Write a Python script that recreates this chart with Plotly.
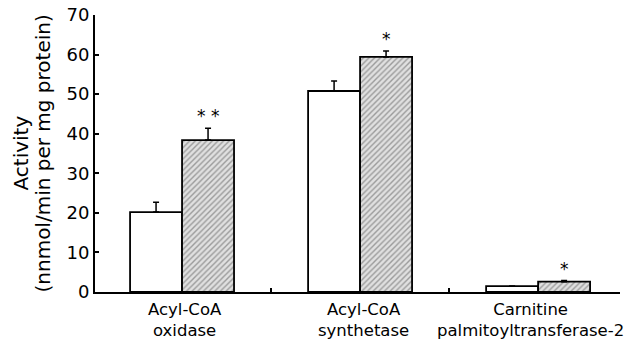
import plotly.graph_objects as go

categories = ["Acyl-CoA<br>oxidase", "Acyl-CoA<br>synthetase", "Carnitine<br>palmitoyltransferase-2"]
control_vals = [20.2, 50.8, 1.5]
control_err = [2.5, 2.5, 0.0]
treated_vals = [38.4, 59.4, 2.6]
treated_err = [3.0, 1.5, 0.3]
signif = ["* *", "*", "*"]
y_ticks = [0, 10, 20, 30, 40, 50, 60, 70]
y_title = ["Activity", "(nnmol/min per mg protein)"]

xpos = list(range(len(categories)))
FONT = "DejaVu Sans, Verdana, sans-serif"

fig = go.Figure()
fig.add_trace(go.Bar(
    x=xpos, y=control_vals,
    marker=dict(color="white", line=dict(color="black", width=1.8)),
    error_y=dict(type="data", symmetric=False, array=control_err,
                 arrayminus=[0] * 3, color="black", thickness=1.5, width=3),
    name="Control", showlegend=False,
))
fig.add_trace(go.Bar(
    x=xpos, y=treated_vals,
    marker=dict(color="#e0e0e0", line=dict(color="black", width=1.8),
                pattern=dict(shape="/", fgcolor="#555555", bgcolor="#e0e0e0",
                             size=4, solidity=0.35)),
    error_y=dict(type="data", symmetric=False, array=treated_err,
                 arrayminus=[0] * 3, color="black", thickness=1.5, width=3),
    name="Treated", showlegend=False,
))

bargap = 0.416
half = (1 - bargap) / 4
for i, s in enumerate(signif):
    fig.add_annotation(x=xpos[i] + half, y=treated_vals[i] + treated_err[i],
                       xref="x", yref="y", text=s, showarrow=False,
                       yanchor="bottom", yshift=0,
                       font=dict(size=17, color="black", family=FONT))

label_shift = [3, 3, -8]
for i in xpos:
    fig.add_annotation(x=i, y=0, xref="x", yref="paper", text=categories[i],
                       showarrow=False, yanchor="top", yshift=-6, xshift=label_shift[i],
                       font=dict(size=16.5, color="black", family=FONT))

for t, xs in zip(y_title, [-75, -53]):
    fig.add_annotation(x=0, y=0.5, xref="paper", yref="paper", text=t,
                       showarrow=False, textangle=-90, xanchor="center", yanchor="middle",
                       xshift=xs, font=dict(size=20, color="black", family=FONT))

fig.update_layout(
    width=628, height=341,
    margin=dict(l=95, r=8, t=15, b=49, autoexpand=False),
    paper_bgcolor="white", plot_bgcolor="white",
    barmode="group", bargap=bargap, bargroupgap=0,
    font=dict(family=FONT, color="black", size=17),
)
fig.update_xaxes(
    range=[-0.489, 2.46], tickvals=xpos, showticklabels=False, ticks="",
    showline=True, linecolor="black", linewidth=2, showgrid=False, zeroline=False,
    automargin=False,
    minor=dict(tickvals=[0.5, 1.5], ticks="inside", ticklen=4, tickcolor="black", tickwidth=2),
)
fig.update_yaxes(
    range=[0, 70], tickvals=y_ticks, ticks="inside", ticklen=4, tickwidth=1.5,
    tickcolor="black", showline=True, linecolor="black", linewidth=2,
    showgrid=False, zeroline=False, tickfont=dict(size=18), automargin=False,
)
fig.write_html("out.html", config={"displayModeBar": False},
               post_script="document.body.style.margin='0';")
